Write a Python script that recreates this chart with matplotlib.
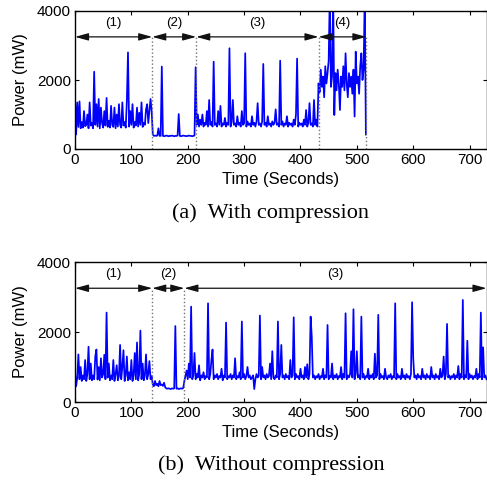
"""
Power trace with / without compression
"""
import numpy as np
import matplotlib
matplotlib.use('Agg')
import matplotlib.pyplot as plt

# sample spacing of the traces (seconds)
step = 2

# (a) with compression, t = 0 .. 516 s
power_a = [
    1500, 420, 1350, 640, 1380, 600, 780, 620, 1100, 660,
    700, 1000, 600, 1350, 680, 760, 600, 2240, 700, 1300,
    650, 1450, 600, 1200, 750, 620, 1100, 680, 1480, 640,
    820, 620, 1250, 700, 640, 1200, 600, 1000, 650, 1300,
    700, 620, 1350, 680, 780, 620, 1400, 2800, 650, 1100,
    700, 1300, 620, 780, 680, 1200, 650, 1050, 700, 1350,
    640, 760, 700, 1150, 1300, 750, 1100, 1450, 1100,
    # segment 2
    420, 380, 390, 380, 390, 600, 380, 380, 2390, 380,
    370, 380, 390, 380, 370, 380, 380, 390, 380, 370,
    380, 380, 390, 1015, 380, 370, 380, 390, 380, 380,
    370, 380, 390, 380, 380, 370, 380, 390, 2370,
    # segment 3
    700, 1000, 650, 850, 700, 1000, 650, 760, 700, 1100,
    650, 1420, 700, 780, 650, 2530, 700, 740, 650, 1100,
    700, 1250, 650, 740, 700, 900, 650, 760, 700, 2920,
    650, 780, 1420, 700, 740, 650, 950, 700, 760, 650,
    1100, 700, 740, 2775, 650, 800, 700, 740, 650, 950,
    700, 760, 650, 800, 1330, 700, 740, 650, 800, 2465,
    700, 760, 650, 950, 700, 740, 650, 800, 700, 760,
    1150, 700, 740, 650, 2560, 700, 800, 650, 740, 700,
    950, 650, 760, 700, 740, 650, 850, 700, 1000, 2620,
    650, 760, 700, 740, 650, 850, 700, 1130, 650, 760,
    1330, 700, 740, 650, 1420, 700, 850, 650,
    # segment 4
    1900, 1650, 2300, 1800, 2100, 1500, 2400, 1900, 2200, 2560,
    4500, 1800, 2100, 4500, 985, 2200, 1700, 2300, 1900, 1130,
    2100, 1800, 2400, 1700, 2775, 1900, 1500, 2200, 1800, 2100,
    1600, 2300, 940, 2820, 1900, 2100, 1600, 2400, 2775, 2000,
    2300, 4500, 420,
]

# (b) without compression, t = 0 .. 730 s
power_b = [
    850, 450, 700, 1360, 650, 1000, 600, 760, 650, 1200,
    600, 800, 1580, 650, 1100, 620, 760, 650, 1300, 1500,
    640, 1000, 620, 1250, 700, 800, 1350, 650, 2555, 700,
    1100, 620, 760, 650, 1200, 600, 800, 1050, 620, 740,
    1630, 650, 1000, 1480, 600, 760, 1300, 620, 850, 650,
    1200, 600, 760, 1400, 650, 1700, 620, 800, 2040, 650,
    1100, 620, 760, 1360, 650, 800, 1170, 650, 740,
    # segment 2
    500, 450, 600, 480, 520, 450, 600, 480, 500, 460,
    550, 420, 390, 380, 390, 380, 370, 390, 380, 390,
    2170, 380, 390, 370, 380, 390, 380, 400,
    # segment 3
    600, 750, 900, 650, 1100, 700, 2725, 650, 760, 1400,
    650, 800, 700, 1050, 620, 760, 700, 850, 650, 740,
    700, 2820, 650, 800, 1200, 1500, 650, 760, 700, 800,
    650, 740, 700, 950, 620, 760, 700, 2270, 650, 740,
    700, 800, 650, 760, 700, 1250, 650, 740, 700, 850,
    650, 2300, 700, 800, 650, 740, 1000, 700, 760, 650,
    700, 760, 370, 650, 800, 700, 740, 2470, 650, 1000,
    700, 760, 650, 800, 700, 740, 1100, 650, 1450, 700,
    650, 760, 700, 2300, 650, 800, 1630, 700, 760, 650,
    800, 700, 740, 650, 1200, 700, 760, 2420, 650, 800,
    700, 740, 650, 950, 700, 760, 650, 1000, 700, 1080,
    650, 800, 2440, 1870, 700, 760, 650, 740, 700, 800,
    650, 740, 700, 950, 650, 760, 700, 2200, 650, 740,
    700, 1100, 650, 760, 700, 800, 650, 740, 700, 1000,
    650, 800, 700, 2535, 650, 760, 700, 800, 1450, 700,
    2650, 650, 800, 1450, 700, 760, 650, 2440, 700, 800,
    650, 740, 700, 950, 650, 760, 700, 800, 650, 1380,
    700, 760, 2490, 650, 800, 700, 740, 650, 950, 700,
    650, 760, 700, 800, 650, 740, 700, 2820, 650, 800,
    700, 740, 650, 950, 700, 760, 650, 800, 700, 740,
    650, 800, 2850, 1250, 700, 760, 650, 800, 700, 740,
    650, 950, 700, 760, 650, 800, 700, 740, 650, 1000,
    700, 760, 650, 800, 700, 740, 650, 950, 700, 760,
    1300, 650, 800, 2230, 700, 760, 650, 740, 700, 800,
    650, 760, 700, 1030, 650, 800, 700, 2915, 650, 760,
    700, 1750, 650, 800, 700, 760, 650, 740, 700, 950,
    650, 800, 700, 2555, 650, 1560, 700, 760, 650,
]

# phase boundaries (seconds) and their labels
bounds_a = [0, 137, 215, 432, 517]
labels_a = ['(1)', '(2)', '(3)', '(4)']
bounds_b = [0, 137, 194, 730]
labels_b = ['(1)', '(2)', '(3)']

captions = ['(a)  With compression', '(b)  Without compression']

plt.rcParams['font.family'] = ['Liberation Sans', 'DejaVu Sans']

fig = plt.figure(figsize=(4.87, 4.80), dpi=100)
ax_a = fig.add_axes([75/487, 1-149/480, 411.5/487, 138/480])
ax_b = fig.add_axes([75/487, 1-402/480, 411.5/487, 140/480])


def plotPanel(ax, power, bounds, labels, arrow_y=3250, label_y=3650):
    times = np.arange(len(power)) * step
    ax.plot(times, power, color='#0000ff', lw=1.25)
    ax.set_xlim(0, 730)
    ax.set_ylim(0, 4000)
    ax.set_xticks(range(0, 800, 100))
    ax.set_yticks([0, 2000, 4000])
    ax.tick_params(direction='in', top=True, right=True, length=3,
                   labelsize=11, pad=3)
    for sp in ax.spines.values():
        sp.set_linewidth(1.0)
    ax.set_ylabel('Power (mW)', fontsize=12)
    ax.yaxis.set_label_coords(-0.115, 0.5)
    ax.set_xlabel('Time (Seconds)', fontsize=12)
    ax.xaxis.set_label_coords(0.5, -0.165)
    # dotted separators between phases
    for b in bounds[1:]:
        if b < 730:
            ax.plot([b, b], [0, arrow_y], color='0.45', ls=':', lw=1)
    # double arrows and phase labels
    for i in range(len(labels)):
        x0, x1 = bounds[i], bounds[i+1]
        ax.annotate('', xy=(x1, arrow_y), xytext=(x0, arrow_y),
                    arrowprops=dict(arrowstyle='<|-|>,head_length=0.8,head_width=0.22',
                                    color='#111111', lw=0.9,
                                    shrinkA=0, shrinkB=0),
                    annotation_clip=False)
        ax.text((x0 + x1) / 2, label_y, labels[i], ha='center', va='center',
                fontsize=9.5)


plotPanel(ax_a, power_a, bounds_a, labels_a)
plotPanel(ax_b, power_b, bounds_b, labels_b)

fig.text(271/487, 1-213/480, captions[0], ha='center', va='center',
         family='Liberation Serif', fontsize=16)
fig.text(271/487, 1-465/480, captions[1], ha='center', va='center',
         family='Liberation Serif', fontsize=16)

plt.savefig('out.png', dpi=100)
